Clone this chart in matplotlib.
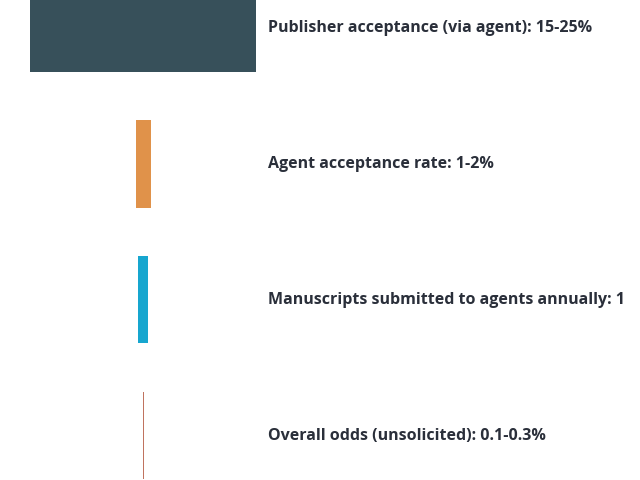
import matplotlib.pyplot as plt

labels = [
    "Publisher acceptance (via agent): 15-25%",
    "Agent acceptance rate: 1-2%",
    "Manuscripts submitted to agents annually: 1",
    "Overall odds (unsolicited): 0.1-0.3%",
]
widths = [100, 6.6, 4.4, 0.4]
colors = ["#37505a", "#e0924a", "#17a6cf", "#c0735f"]

fig = plt.figure(figsize=(6.4, 4.8), dpi=100)
ax = fig.add_axes([0, 0, 1, 1])
rows = list(range(len(labels)))

ax.barh(rows, widths, left=[-w / 2 for w in widths], height=0.64, color=colors)
for r, lab in zip(rows, labels):
    ax.text(55.3, r, lab, va="center", ha="left", fontsize=11.5,
            fontweight="bold", color="#2a2f3a", family=["Open Sans", "DejaVu Sans"])

ax.set_xlim(-63.3, 219.9)
ax.set_ylim(3.324, -0.206)
ax.axis("off")
fig.savefig("out.png", dpi=100)
